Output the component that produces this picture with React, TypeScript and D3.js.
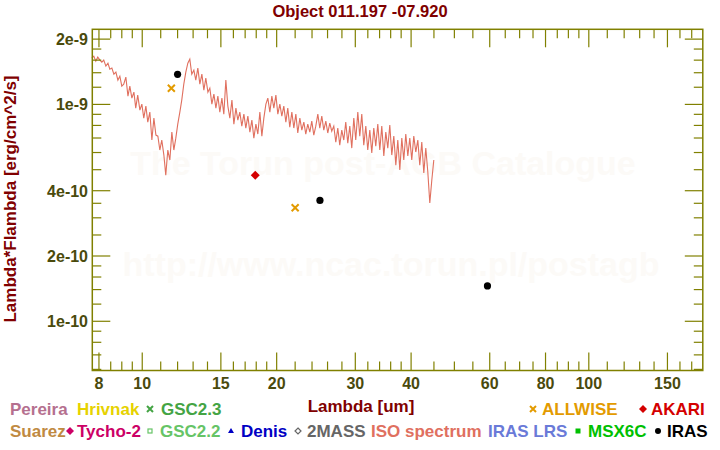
import React from "react";
import * as d3 from "d3";

const W = 720;
const H = 450;

const title = "Object 011.197 -07.920";
const xLabel = "Lambda [um]";
const yLabel = "Lambda*Flambda [erg/cm^2/s]";

const xDomain = [7.73, 180];
const yDomain = [5.93e-11, 2.22e-9];

const xMajorTicks = [8, 10, 15, 20, 30, 40, 60, 80, 100, 150];
const xMinorTicks = [8.5, 9, 9.5, 11, 12, 13, 14, 16, 17, 18, 19, 22, 24, 26, 28, 32, 34, 36, 38, 45, 50, 55, 65, 70, 75, 85, 90, 95, 110, 120, 130, 140, 160, 170];
const yMajorTicks = [2e-9, 1e-9, 4e-10, 2e-10, 1e-10];
const yMajorLabels = ["2e-9", "1e-9", "4e-10", "2e-10", "1e-10"];
const yMinorTicks = [1.8e-9, 1.6e-9, 1.4e-9, 1.2e-9, 9e-10, 8e-10, 7e-10, 6e-10, 5e-10, 3.5e-10, 3e-10, 2.5e-10, 1.8e-10, 1.6e-10, 1.4e-10, 1.2e-10, 9e-11, 8e-11, 7e-11, 6e-11];

// ISO spectrum: wavelength (um) and flux in units of 1e-10 erg/cm^2/s
const isoLambda = [
  7.71, 7.79, 7.87, 7.95, 8.04, 8.12, 8.2, 8.29, 8.38, 8.46, 8.55, 8.64, 8.73, 8.82, 8.91, 9.0, 9.09, 9.19, 9.29, 9.38,
  9.48, 9.58, 9.67, 9.77, 9.88, 9.98, 10.08, 10.19, 10.29, 10.4, 10.51, 10.62, 10.73, 10.84, 10.95, 11.06, 11.18, 11.29, 11.41, 11.53,
  11.65, 11.77, 11.89, 12.01, 12.14, 12.26, 12.39, 12.52, 12.65, 12.78, 12.91, 13.05, 13.18, 13.32, 13.46, 13.6, 13.74, 13.88, 14.03, 14.17,
  14.32, 14.47, 14.62, 14.77, 14.92, 15.08, 15.23, 15.39, 15.55, 15.71, 15.88, 16.04, 16.21, 16.37, 16.54, 16.71, 16.89, 17.06, 17.24, 17.42,
  17.6, 17.78, 17.97, 18.15, 18.34, 18.53, 18.72, 18.92, 19.11, 19.31, 19.51, 19.71, 19.92, 20.12, 20.33, 20.54, 20.75, 20.97, 21.18, 21.4,
  21.63, 21.85, 22.08, 22.3, 22.54, 22.77, 23.01, 23.24, 23.48, 23.73, 23.97, 24.22, 24.47, 24.73, 24.98, 25.24, 25.5, 25.77, 26.03, 26.3,
  26.57, 26.85, 27.13, 27.41, 27.69, 27.98, 28.27, 28.56, 28.86, 29.16, 29.46, 29.77, 30.07, 30.39, 30.7, 31.02, 31.34, 31.67, 31.99, 32.33,
  32.66, 33.0, 33.34, 33.69, 34.04, 34.39, 34.75, 35.11, 35.47, 35.84, 36.21, 36.59, 36.97, 37.35, 37.74, 38.13, 38.52, 38.92, 39.33, 39.73,
  40.14, 40.56, 40.98, 41.41, 41.83, 42.27, 42.71, 43.15, 43.6, 44.05, 44.51, 44.97
];
const isoFlux = [
  16.35, 16.7, 15.83, 16.52, 16.0, 15.66, 16.0, 15.01, 15.5, 14.54, 14.7, 13.79, 14.09, 12.94, 13.5, 12.14, 12.4, 13.36, 10.92, 12.14,
  10.69, 11.39, 9.61, 11.04, 9.41, 10.03, 8.65, 9.82, 8.29, 9.21, 6.85, 8.65, 7.22, 7.14, 6.16, 6.85, 5.84, 4.72, 6.16, 5.54,
  7.45, 6.16, 6.99, 8.11, 9.21, 10.47, 12.4, 14.09, 15.5, 16.18, 13.79, 14.39, 12.94, 14.7, 12.4, 13.79, 11.64, 13.22, 11.39, 11.89,
  10.03, 11.15, 9.61, 10.92, 9.21, 10.69, 9.02, 12.94, 9.82, 8.65, 10.47, 8.11, 9.61, 8.47, 9.21, 7.94, 9.02, 7.78, 8.83, 7.45,
  8.47, 6.99, 8.11, 7.3, 9.21, 7.14, 8.65, 10.03, 10.69, 9.21, 10.92, 9.61, 11.04, 9.02, 10.03, 8.83, 9.82, 8.29, 9.61, 7.86,
  9.21, 7.78, 9.02, 7.38, 8.65, 7.61, 8.29, 7.3, 8.11, 7.45, 8.38, 7.22, 7.94, 9.02, 7.78, 8.83, 7.61, 8.38, 7.38, 8.2,
  7.53, 7.94, 6.7, 7.78, 6.49, 7.61, 6.85, 8.29, 6.63, 7.94, 6.29, 8.65, 6.85, 9.21, 7.14, 9.02, 6.49, 7.94, 6.16, 7.61,
  5.97, 7.78, 6.42, 8.11, 6.16, 7.94, 5.78, 7.45, 6.29, 8.03, 5.84, 7.14, 5.25, 6.85, 4.98, 6.99, 5.54, 7.3, 5.78, 6.99,
  5.54, 7.14, 6.03, 6.85, 5.25, 6.7, 4.83, 6.29, 4.88, 3.51, 4.48, 5.54
];
const isoUnit = 1e-10;

const irasLambda = [12, 25, 59.3];
const irasFlux = [1.376e-9, 3.61e-10, 1.455e-10];
const allwiseLambda = [11.62, 22.0];
const allwiseFlux = [1.187e-9, 3.34e-10];
const akariLambda = [17.91];
const akariFlux = [4.71e-10];

const legendRow1 = [
  { label: "Pereira", color: "#b5708f", marker: "none", tx: 10, mx: 0 },
  { label: "Hrivnak", color: "#e6d200", marker: "none", tx: 77, mx: 0 },
  { label: "GSC2.3", color: "#44a444", marker: "cross", tx: 161, mx: 150 },
  { label: "ALLWISE", color: "#e39b00", marker: "cross", tx: 542, mx: 533 },
  { label: "AKARI", color: "#d40000", marker: "diamond", tx: 651, mx: 643 },
];
const legendRow2 = [
  { label: "Suarez", color: "#c08a42", marker: "none", tx: 10, mx: 0 },
  { label: "Tycho-2", color: "#cc0066", marker: "diamond", tx: 77, mx: 70 },
  { label: "GSC2.2", color: "#66c466", marker: "square-open", tx: 160, mx: 150 },
  { label: "Denis", color: "#0000c4", marker: "triangle", tx: 241, mx: 231 },
  { label: "2MASS", color: "#666666", marker: "diamond-open", tx: 307, mx: 298 },
  { label: "ISO spectrum", color: "#e0705f", marker: "none", tx: 371, mx: 0 },
  { label: "IRAS LRS", color: "#6a7ad8", marker: "none", tx: 488, mx: 0 },
  { label: "MSX6C", color: "#00c000", marker: "square", tx: 588, mx: 578 },
  { label: "IRAS", color: "#000000", marker: "circle", tx: 667, mx: 658 },
];

const FONT = "'Liberation Sans', Arial, Helvetica, sans-serif";
const AXIS = "#808000";
const TICKTXT = "#4a4a0c";
const DARKRED = "#800000";

function Marker({ kind, x, y, color, s = 3.5 }: { kind: string; x: number; y: number; color: string; s?: number }) {
  if (kind === "cross")
    return (
      <path d={`M${x - s},${y - s}L${x + s},${y + s}M${x - s},${y + s}L${x + s},${y - s}`} stroke={color} strokeWidth={2} fill="none" />
    );
  if (kind === "diamond")
    return <path d={`M${x},${y - s - 1}L${x + s + 1},${y}L${x},${y + s + 1}L${x - s - 1},${y}Z`} fill={color} />;
  if (kind === "diamond-open")
    return <path d={`M${x},${y - s}L${x + s},${y}L${x},${y + s}L${x - s},${y}Z`} fill="none" stroke={color} strokeWidth={1.2} />;
  if (kind === "square") return <rect x={x - s + 0.5} y={y - s + 0.5} width={2 * s - 1} height={2 * s - 1} fill={color} />;
  if (kind === "square-open")
    return <rect x={x - s + 1} y={y - s + 1} width={2 * s - 2} height={2 * s - 2} fill="none" stroke={color} strokeWidth={1.2} />;
  if (kind === "triangle") return <path d={`M${x},${y - s}L${x + s},${y + s - 1}L${x - s},${y + s - 1}Z`} fill={color} />;
  if (kind === "circle") return <circle cx={x} cy={y} r={s} fill={color} />;
  return null;
}

export default function App() {
  const x0 = 92.3, x1 = 702.8, y0 = 29.3, y1 = 370.5;
  const x = d3.scaleLog().domain(xDomain).range([x0, x1]);
  const y = d3.scaleLog().domain(yDomain).range([y1, y0]);

  const isoPts: [number, number][] = isoLambda.map((l, i) => [l, isoFlux[i] * isoUnit]);
  const line = d3
    .line<[number, number]>()
    .x((d) => x(d[0]))
    .y((d) => y(d[1]));

  const majL = 18, minL = 9;

  return (
    <svg width={W} height={H} style={{ position: "absolute", left: 0, top: 0, background: "#fff" }} fontFamily={FONT}>
      <rect width={W} height={H} fill="#fff" />
      {/* watermark */}
      <text x={383} y={175} textAnchor="middle" fontSize={34} fontWeight="bold" fill="#fcfaf7">
        The Torun post-AGB Catalogue
      </text>
      <text x={391} y={276} textAnchor="middle" fontSize={34} fontWeight="bold" fill="#fcfaf7">
        http://www.ncac.torun.pl/postagb
      </text>

      {/* title */}
      <text x={360} y={17} textAnchor="middle" fontSize={16.5} fontWeight="bold" fill={DARKRED}>
        {title}
      </text>

      {/* spectrum */}
      <path d={line(isoPts) || ""} fill="none" stroke="#e0705f" strokeWidth={1.1} />

      {/* photometry */}
      {allwiseLambda.map((l, i) => (
        <Marker key={"aw" + i} kind="cross" x={x(l)} y={y(allwiseFlux[i])} color="#e39b00" s={3.5} />
      ))}
      {akariLambda.map((l, i) => (
        <Marker key={"ak" + i} kind="diamond" x={x(l)} y={y(akariFlux[i])} color="#d40000" s={3.5} />
      ))}
      {irasLambda.map((l, i) => (
        <Marker key={"ir" + i} kind="circle" x={x(l)} y={y(irasFlux[i])} color="#000" s={3.6} />
      ))}

      {/* frame */}
      <rect x={x0} y={y0} width={x1 - x0} height={y1 - y0} fill="none" stroke={AXIS} strokeWidth={1.5} />

      {/* x ticks */}
      {xMajorTicks.map((t) => (
        <g key={"xM" + t} stroke={AXIS} strokeWidth={1.2}>
          <line x1={x(t)} x2={x(t)} y1={y1} y2={y1 - majL} />
          <line x1={x(t)} x2={x(t)} y1={y0} y2={y0 + majL} />
        </g>
      ))}
      {xMinorTicks.map((t) => (
        <g key={"xm" + t} stroke={AXIS} strokeWidth={1.2}>
          <line x1={x(t)} x2={x(t)} y1={y1} y2={y1 - minL} />
          <line x1={x(t)} x2={x(t)} y1={y0} y2={y0 + minL} />
        </g>
      ))}
      {xMajorTicks.map((t) => (
        <text key={"xl" + t} x={x(t)} y={389} textAnchor="middle" fontSize={16} fontWeight="bold" fill={TICKTXT}>
          {t}
        </text>
      ))}

      {/* y ticks */}
      {yMajorTicks.map((t) => (
        <g key={"yM" + t} stroke={AXIS} strokeWidth={1.2}>
          <line x1={x0} x2={x0 + majL} y1={y(t)} y2={y(t)} />
          <line x1={x1} x2={x1 - majL} y1={y(t)} y2={y(t)} />
        </g>
      ))}
      {yMinorTicks.map((t) => (
        <g key={"ym" + t} stroke={AXIS} strokeWidth={1.2}>
          <line x1={x0} x2={x0 + minL} y1={y(t)} y2={y(t)} />
          <line x1={x1} x2={x1 - minL} y1={y(t)} y2={y(t)} />
        </g>
      ))}
      {yMajorTicks.map((t, i) => (
        <text key={"yl" + t} x={88} y={y(t) + 6} textAnchor="end" fontSize={16} fontWeight="bold" fill={TICKTXT}>
          {yMajorLabels[i]}
        </text>
      ))}

      {/* axis labels */}
      <text x={361} y={412} textAnchor="middle" fontSize={17} fontWeight="bold" fill={DARKRED}>
        {xLabel}
      </text>
      <text transform={`translate(16,199) rotate(-90)`} textAnchor="middle" fontSize={17} fontWeight="bold" fill={DARKRED}>
        {yLabel}
      </text>

      {/* legend */}
      {legendRow1.map((d) => (
        <g key={d.label}>
          {d.marker !== "none" && <Marker kind={d.marker} x={d.mx} y={409} color={d.color} s={3} />}
          <text x={d.tx} y={415} fontSize={17} fontWeight="bold" fill={d.color}>
            {d.label}
          </text>
        </g>
      ))}
      {legendRow2.map((d) => (
        <g key={d.label}>
          {d.marker !== "none" && <Marker kind={d.marker} x={d.mx} y={431} color={d.color} s={3} />}
          <text x={d.tx} y={437} fontSize={17} fontWeight="bold" fill={d.color}>
            {d.label}
          </text>
        </g>
      ))}
    </svg>
  );
}
